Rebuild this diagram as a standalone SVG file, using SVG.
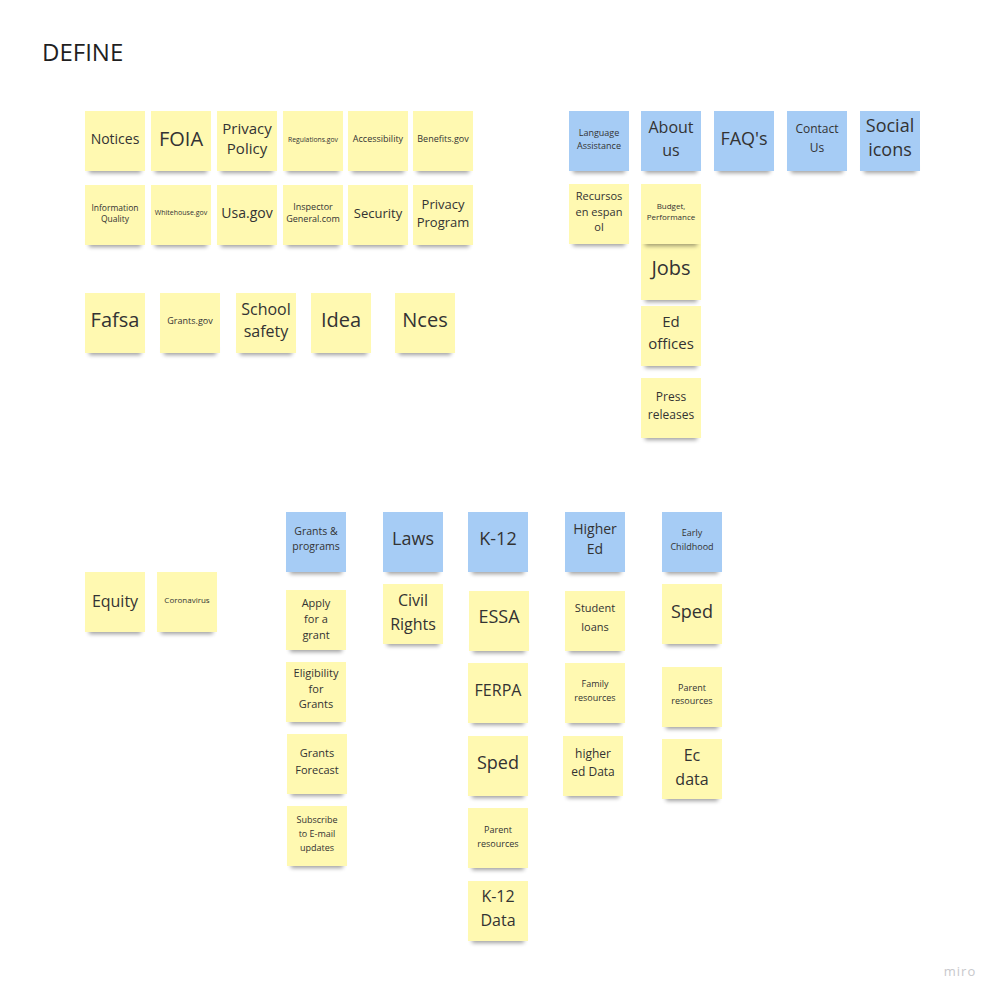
<svg xmlns="http://www.w3.org/2000/svg" width="1000" height="1000" viewBox="0 0 1000 1000">
<defs>
<filter id="blur" x="-20%" y="-100%" width="140%" height="300%"><feGaussianBlur stdDeviation="2.2"/></filter>
<style>
.s{fill:#000;opacity:.38;filter:url(#blur)}
.y{fill:#FFF9B1}
.b{fill:#A6CCF5}
text{font-family:"Open Sans","Noto Sans","DejaVu Sans",sans-serif;text-anchor:middle;fill:#333333}
.title{text-anchor:start;font-size:24px;fill:#1f1f1f}
.miro{font-size:13px;fill:#c8c8cc;letter-spacing:1px}
</style>
</defs>
<rect width="1000" height="1000" fill="#ffffff"/>
<text class="title" x="42" y="61">DEFINE</text>
<text class="miro" x="960" y="976">miro</text>
<g id="connectors"/>

<g id="notices"><rect class="s" x="89" y="163" width="52" height="10"/><rect class="y" x="85" y="111" width="60" height="60"/><text x="115" y="144" font-size="14">Notices</text></g>
<g id="foia"><rect class="s" x="155" y="163" width="52" height="10"/><rect class="y" x="151" y="111" width="60" height="60"/><text x="181" y="146" font-size="20">FOIA</text></g>
<g id="privacy-policy"><rect class="s" x="221" y="163" width="52" height="10"/><rect class="y" x="217" y="111" width="60" height="60"/><text x="247" y="134" font-size="15">Privacy</text><text x="247" y="154" font-size="15">Policy</text></g>
<g id="regulations"><rect class="s" x="287" y="163" width="52" height="10"/><rect class="y" x="283" y="111" width="60" height="60"/><text x="313" y="142" font-size="6.8">Regulations.gov</text></g>
<g id="accessibility"><rect class="s" x="352" y="163" width="52" height="10"/><rect class="y" x="348" y="111" width="60" height="60"/><text x="378" y="142" font-size="9">Accessibility</text></g>
<g id="benefits"><rect class="s" x="417" y="163" width="52" height="10"/><rect class="y" x="413" y="111" width="60" height="60"/><text x="443" y="142" font-size="9">Benefits.gov</text></g>

<g id="information-quality"><rect class="s" x="89" y="237" width="52" height="10"/><rect class="y" x="85" y="185" width="60" height="60"/><text x="115" y="211" font-size="8.5">Information</text><text x="115" y="222" font-size="8.5">Quality</text></g>
<g id="whitehouse"><rect class="s" x="155" y="237" width="52" height="10"/><rect class="y" x="151" y="185" width="60" height="60"/><text x="181" y="215" font-size="7">Whitehouse.gov</text></g>
<g id="usa-gov"><rect class="s" x="221" y="237" width="52" height="10"/><rect class="y" x="217" y="185" width="60" height="60"/><text x="247" y="218" font-size="14">Usa.gov</text></g>
<g id="inspector-general"><rect class="s" x="287" y="237" width="52" height="10"/><rect class="y" x="283" y="185" width="60" height="60"/><text x="313" y="210" font-size="9">Inspector</text><text x="313" y="222" font-size="9">General.com</text></g>
<g id="security"><rect class="s" x="352" y="237" width="52" height="10"/><rect class="y" x="348" y="185" width="60" height="60"/><text x="378" y="218" font-size="13">Security</text></g>
<g id="privacy-program"><rect class="s" x="417" y="237" width="52" height="10"/><rect class="y" x="413" y="185" width="60" height="60"/><text x="443" y="209" font-size="13">Privacy</text><text x="443" y="227" font-size="13">Program</text></g>

<g id="fafsa"><rect class="s" x="89" y="345" width="52" height="10"/><rect class="y" x="85" y="293" width="60" height="60"/><text x="115" y="327" font-size="20">Fafsa</text></g>
<g id="grants-gov"><rect class="s" x="164" y="345" width="52" height="10"/><rect class="y" x="160" y="293" width="60" height="60"/><text x="190" y="324" font-size="9">Grants.gov</text></g>
<g id="school-safety"><rect class="s" x="240" y="345" width="52" height="10"/><rect class="y" x="236" y="293" width="60" height="60"/><text x="266" y="315" font-size="16">School</text><text x="266" y="337" font-size="16">safety</text></g>
<g id="idea"><rect class="s" x="315" y="345" width="52" height="10"/><rect class="y" x="311" y="293" width="60" height="60"/><text x="341" y="327" font-size="20">Idea</text></g>
<g id="nces"><rect class="s" x="399" y="345" width="52" height="10"/><rect class="y" x="395" y="293" width="60" height="60"/><text x="425" y="327" font-size="20">Nces</text></g>

<g id="language-assistance"><rect class="s" x="573" y="163" width="52" height="10"/><rect class="b" x="569" y="111" width="60" height="60"/><text x="599" y="136" font-size="9">Language</text><text x="599" y="149" font-size="9">Assistance</text></g>
<g id="about-us"><rect class="s" x="645" y="163" width="52" height="10"/><rect class="b" x="641" y="111" width="60" height="60"/><text x="671" y="133" font-size="16">About</text><text x="671" y="156" font-size="16">us</text></g>
<g id="faqs"><rect class="s" x="718" y="163" width="52" height="10"/><rect class="b" x="714" y="111" width="60" height="60"/><text x="744" y="145" font-size="18">FAQ's</text></g>
<g id="contact-us"><rect class="s" x="791" y="163" width="52" height="10"/><rect class="b" x="787" y="111" width="60" height="60"/><text x="817" y="133" font-size="12">Contact</text><text x="817" y="152" font-size="12">Us</text></g>
<g id="social-icons"><rect class="s" x="864" y="163" width="52" height="10"/><rect class="b" x="860" y="111" width="60" height="60"/><text x="890" y="132" font-size="18">Social</text><text x="890" y="156" font-size="18">icons</text></g>

<g id="recursos"><rect class="s" x="573" y="236" width="52" height="10"/><rect class="y" x="569" y="184" width="60" height="60"/><text x="599" y="200" font-size="11">Recursos</text><text x="599" y="216" font-size="11">en espan</text><text x="599" y="231" font-size="11">ol</text></g>
<g id="jobs"><rect class="s" x="645" y="292" width="52" height="10"/><rect class="y" x="641" y="240" width="60" height="60"/><text x="671" y="275" font-size="20">Jobs</text></g>
<g id="budget"><rect class="s" x="645" y="236" width="52" height="10"/><rect class="y" x="641" y="184" width="60" height="60"/><text x="671" y="209" font-size="8">Budget,</text><text x="671" y="220" font-size="8">Performance</text></g>
<g id="ed-offices"><rect class="s" x="645" y="358" width="52" height="10"/><rect class="y" x="641" y="306" width="60" height="60"/><text x="671" y="327" font-size="15">Ed</text><text x="671" y="349" font-size="15">offices</text></g>
<g id="press-releases"><rect class="s" x="645" y="430" width="52" height="10"/><rect class="y" x="641" y="378" width="60" height="60"/><text x="671" y="401" font-size="12">Press</text><text x="671" y="419" font-size="12">releases</text></g>

<g id="equity"><rect class="s" x="89" y="624" width="52" height="10"/><rect class="y" x="85" y="572" width="60" height="60"/><text x="115" y="607" font-size="16">Equity</text></g>
<g id="coronavirus"><rect class="s" x="161" y="624" width="52" height="10"/><rect class="y" x="157" y="572" width="60" height="60"/><text x="187" y="603" font-size="8">Coronavirus</text></g>

<g id="grants-programs"><rect class="s" x="290" y="564" width="52" height="10"/><rect class="b" x="286" y="512" width="60" height="60"/><text x="316" y="535" font-size="10.5">Grants &amp;</text><text x="316" y="550" font-size="10.5">programs</text></g>
<g id="laws"><rect class="s" x="387" y="564" width="52" height="10"/><rect class="b" x="383" y="512" width="60" height="60"/><text x="413" y="545" font-size="18">Laws</text></g>
<g id="k12"><rect class="s" x="472" y="564" width="52" height="10"/><rect class="b" x="468" y="512" width="60" height="60"/><text x="498" y="545" font-size="18">K-12</text></g>
<g id="higher-ed"><rect class="s" x="569" y="564" width="52" height="10"/><rect class="b" x="565" y="512" width="60" height="60"/><text x="595" y="534" font-size="14">Higher</text><text x="595" y="554" font-size="14">Ed</text></g>
<g id="early-childhood"><rect class="s" x="666" y="564" width="52" height="10"/><rect class="b" x="662" y="512" width="60" height="60"/><text x="692" y="536" font-size="9">Early</text><text x="692" y="550" font-size="9">Childhood</text></g>

<g id="apply-grant"><rect class="s" x="290" y="642" width="52" height="10"/><rect class="y" x="286" y="590" width="60" height="60"/><text x="316" y="607" font-size="11">Apply</text><text x="316" y="623" font-size="11">for a</text><text x="316" y="639" font-size="11">grant</text></g>
<g id="eligibility"><rect class="s" x="290" y="714" width="52" height="10"/><rect class="y" x="286" y="662" width="60" height="60"/><text x="316" y="677" font-size="11">Eligibility</text><text x="316" y="693" font-size="11">for</text><text x="316" y="708" font-size="11">Grants</text></g>
<g id="grants-forecast"><rect class="s" x="291" y="786" width="52" height="10"/><rect class="y" x="287" y="734" width="60" height="60"/><text x="317" y="757" font-size="11">Grants</text><text x="317" y="774" font-size="11">Forecast</text></g>
<g id="subscribe"><rect class="s" x="291" y="858" width="52" height="10"/><rect class="y" x="287" y="806" width="60" height="60"/><text x="317" y="823" font-size="9">Subscribe</text><text x="317" y="837" font-size="9">to E-mail</text><text x="317" y="851" font-size="9">updates</text></g>

<g id="civil-rights"><rect class="s" x="387" y="636" width="52" height="10"/><rect class="y" x="383" y="584" width="60" height="60"/><text x="413" y="606" font-size="16">Civil</text><text x="413" y="630" font-size="16">Rights</text></g>

<g id="essa"><rect class="s" x="473" y="643" width="52" height="10"/><rect class="y" x="469" y="591" width="60" height="60"/><text x="499" y="623" font-size="18">ESSA</text></g>
<g id="ferpa"><rect class="s" x="472" y="715" width="52" height="10"/><rect class="y" x="468" y="663" width="60" height="60"/><text x="498" y="696" font-size="16">FERPA</text></g>
<g id="sped-k12"><rect class="s" x="472" y="788" width="52" height="10"/><rect class="y" x="468" y="736" width="60" height="60"/><text x="498" y="769" font-size="18">Sped</text></g>
<g id="parent-resources-k12"><rect class="s" x="472" y="860" width="52" height="10"/><rect class="y" x="468" y="808" width="60" height="60"/><text x="498" y="833" font-size="9">Parent</text><text x="498" y="847" font-size="9">resources</text></g>
<g id="k12-data"><rect class="s" x="472" y="933" width="52" height="10"/><rect class="y" x="468" y="881" width="60" height="60"/><text x="498" y="902" font-size="16">K-12</text><text x="498" y="926" font-size="16">Data</text></g>

<g id="student-loans"><rect class="s" x="569" y="643" width="52" height="10"/><rect class="y" x="565" y="591" width="60" height="60"/><text x="595" y="612" font-size="11">Student</text><text x="595" y="631" font-size="11">loans</text></g>
<g id="family-resources"><rect class="s" x="569" y="715" width="52" height="10"/><rect class="y" x="565" y="663" width="60" height="60"/><text x="595" y="687" font-size="9">Family</text><text x="595" y="701" font-size="9">resources</text></g>
<g id="higher-ed-data"><rect class="s" x="567" y="788" width="52" height="10"/><rect class="y" x="563" y="736" width="60" height="60"/><text x="593" y="758" font-size="12">higher</text><text x="593" y="776" font-size="12">ed Data</text></g>

<g id="sped-ec"><rect class="s" x="666" y="636" width="52" height="10"/><rect class="y" x="662" y="584" width="60" height="60"/><text x="692" y="618" font-size="18">Sped</text></g>
<g id="parent-resources-ec"><rect class="s" x="666" y="719" width="52" height="10"/><rect class="y" x="662" y="667" width="60" height="60"/><text x="692" y="691" font-size="9">Parent</text><text x="692" y="704" font-size="9">resources</text></g>
<g id="ec-data"><rect class="s" x="666" y="791" width="52" height="10"/><rect class="y" x="662" y="739" width="60" height="60"/><text x="692" y="761" font-size="16">Ec</text><text x="692" y="785" font-size="16">data</text></g>
</svg>
